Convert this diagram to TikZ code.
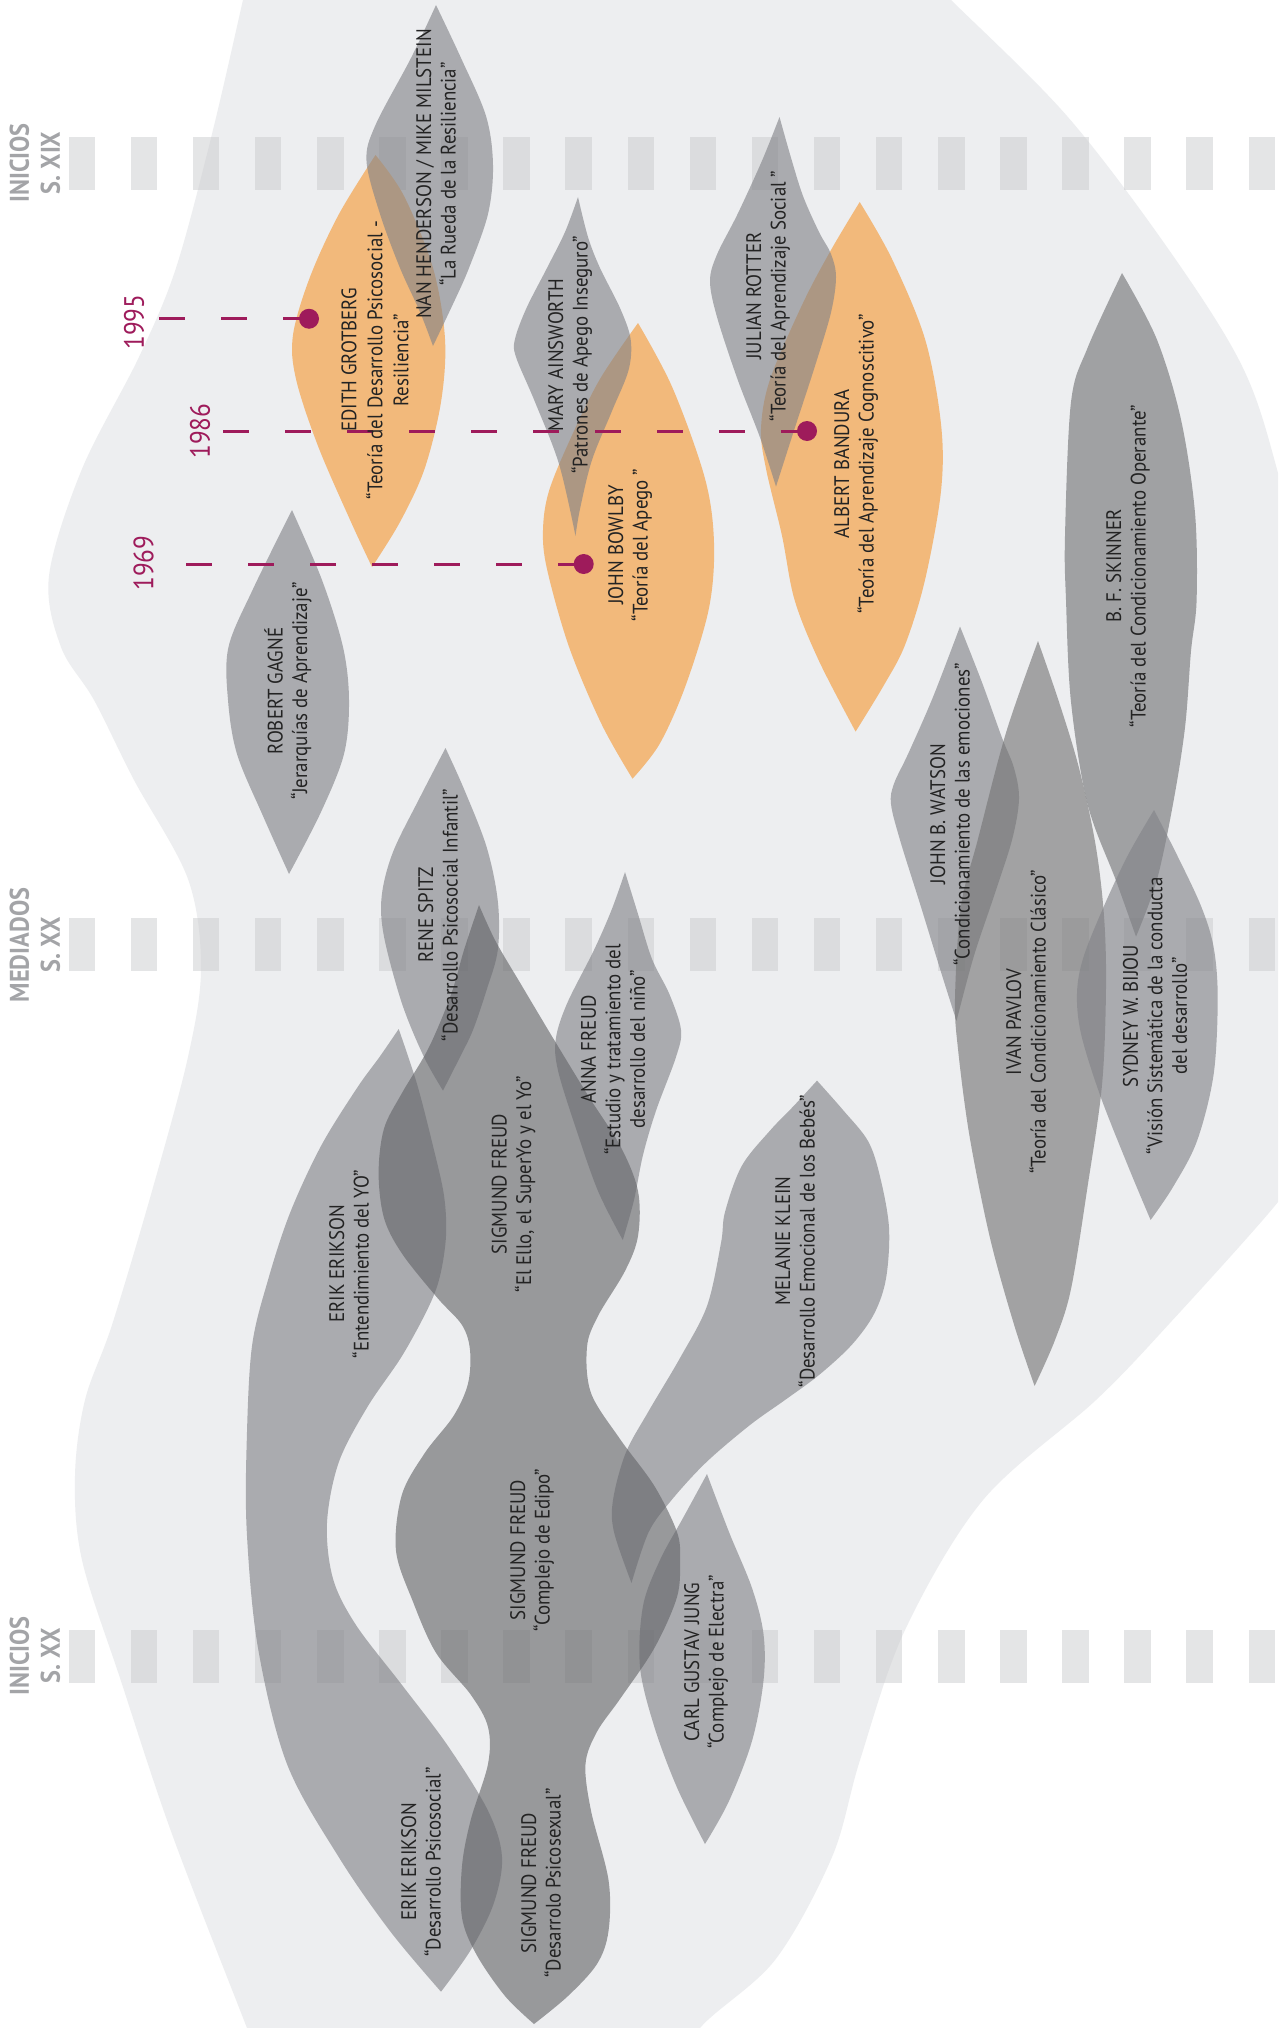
\documentclass[tikz,border=0pt]{standalone}
\usepackage{fontspec}
\setmainfont[FakeStretch=0.9]{PT Sans}
\definecolor{bgc}{RGB}{237,238,240}
\definecolor{sqc}{RGB}{203,204,206}
\definecolor{leafc}{RGB}{130,131,136}
\definecolor{freudc}{RGB}{100,101,104}
\definecolor{pavc}{RGB}{116,116,116}
\definecolor{skinc}{RGB}{113,114,117}
\definecolor{orc}{RGB}{242,185,123}
\definecolor{mag}{RGB}{158,27,91}
\definecolor{txtc}{RGB}{35,35,35}
\definecolor{erac}{RGB}{163,164,167}
\newcommand{\leafpath}[3]{\fill[#1] plot[smooth,tension=0.55] coordinates {#2} -- plot[smooth,tension=0.55] coordinates {#3} -- cycle;}
\tikzset{
  txt/.style={rotate=90, align=center, text=txtc, font=\fontsize{21}{24.5}\selectfont, inner sep=0pt},
  era/.style={rotate=90, align=center, text=erac, font=\bfseries\fontsize{27}{31}\selectfont, inner sep=0pt},
  yr/.style={rotate=90, text=mag, font=\fontsize{28}{30}\selectfont, inner sep=0pt},
  ydot/.style={circle, fill=mag, minimum size=20pt, inner sep=0pt},
  yline/.style={draw=mag, line width=3pt, dash pattern=on 26pt off 36pt},
  grayleaf/.style={fill=leafc, fill opacity=0.62},
  freudleaf/.style={fill=freudc, fill opacity=0.62},
  pavleaf/.style={fill=pavc, fill opacity=0.62},
  skinleaf/.style={fill=skinc, fill opacity=0.62},
  orleaf/.style={fill=orc},
  sq/.style={fill=sqc, fill opacity=0.5}
}
\begin{document}
\begin{tikzpicture}[x=1pt,y=-1pt]
\useasboundingbox (0,0) rectangle (1278,2028);
\fill[white] (0,0) rectangle (1278,2028);
\begin{scope}
\clip (0,0) rectangle (1278,2028);
\fill[bgc] plot[smooth cycle, tension=0.55] coordinates {(252,-40) (600,-80) (920,-30) (951,0) (1067,116) (1169,250) (1242,366) (1278,473) (1320,650) (1340,900) (1310,1150) (1278,1202) (1169,1324) (1096,1400) (983,1500) (905,1630) (860,1760) (832,1857) (775,1960) (700,2028) (675,2080) (450,2120) (267,2080) (247,2028) (172,1834) (121,1681) (82,1560) (75,1476) (85,1400) (112,1325) (152,1191) (188,1057) (201,968) (188,879) (134,780) (94,700) (61,647) (49,576) (82,469) (139,357) (176,268) (212,134) (243,0)};
\end{scope}
% square bands
\foreach \k in {0,...,19}{
  \foreach \y in {137.5,918,1629.6}{
    \fill[sq] ({68.6+62.1*\k},\y) rectangle ++(26.5,53);
  }
}
% orange leaves
\leafpath{orleaf}{(375.5,155) (404,196) (433,268) (445,339) (441,402) (424.5,469) (400,522) (372,567)}{(372,567) (351,522) (318,446) (296,379) (293,335) (310,277) (339,214) (375.5,155)}
\leafpath{orleaf}{(638,323) (672.6,388) (705,478.6) (714,543) (709,608) (685.6,685.6) (659.7,743.8) (632.5,778.7)}{(632.5,778.7) (601.5,724) (569,646.8) (547,569) (543,530) (549,491) (571,437.5) (600,379) (638,323)}
\leafpath{orleaf}{(859.7,202) (892,259) (925,339) (941,424) (941,491) (925,580) (905,645) (884,685) (855.6,731.6)}{(855.6,731.6) (819,661) (794.6,600) (782,535.7) (766,468.75) (761,428.6) (770,379.5) (802.7,303.6) (831,250) (859.7,202)}
% gray leaves
\leafpath{grayleaf}{(436,5) (461,58) (486,116) (493,165) (488,214) (469,268) (453,304) (433,346)}{(433,346) (420,312) (400,268) (380,214) (366.5,161) (375.5,125) (411,58) (436,5)}
\leafpath{grayleaf}{(292,510) (322,580) (343,647) (349,700) (344,754) (321,812) (289,874)}{(289,874) (263,816) (237,754) (228,700) (228.5,647) (253,589) (292,510)}
\leafpath{grayleaf}{(578,197) (588,237) (600,268) (620,308) (630.6,339) (628.6,370) (612,411) (592,460) (580,509) (575.5,536)}{(575.5,536) (559,464) (535,402) (516,357) (515,339) (526.5,308) (547,268) (565,232) (578,197)}
\leafpath{grayleaf}{(779.5,117) (790.5,156) (803,196) (819,232) (831,254) (836,277) (831,312.5) (815,366) (794.6,428.6) (776,486.6)}{(776,486.6) (760,437.5) (737.6,379.5) (717,317) (710,281) (717,254.5) (737.6,214) (762,160.7) (779.5,117)}
\leafpath{skinleaf}{(1122,273) (1156.7,339) (1181,419.6) (1195,513) (1196.6,600) (1191,651) (1185,727.5) (1173,804) (1156.7,880.6) (1136,936.7)}{(1136,936.7) (1116,880.6) (1087.5,804) (1071,702) (1066,600) (1065,535.7) (1071,402) (1087.5,348) (1122,273)}
\leafpath{grayleaf}{(960,626.5) (981.7,681.6) (1002,737.8) (1014,768) (1019,799) (1012,840) (994,896) (973.6,957) (956.5,1021)}{(956.5,1021) (941,972) (920.7,906) (900,840) (891,804) (894,783.7) (908.5,753) (933,697) (960,626.5)}
\leafpath{pavleaf}{(1038,641) (1059,702) (1079,768) (1095.6,845) (1104,916) (1106,988) (1102,1085) (1087.5,1187) (1071,1289) (1055,1340) (1034.6,1386)}{(1034.6,1386) (1014,1324.5) (990,1238) (969.5,1136) (958,1049) (955,998) (961,906) (977.7,840) (1006,732.7) (1038,641)}
\leafpath{grayleaf}{(1154,810) (1177,855) (1201,906) (1213.6,947) (1217.7,998) (1213.6,1074.5) (1197,1141) (1173,1187) (1150.6,1220)}{(1150.6,1220) (1128,1166) (1100,1095) (1081,1033.7) (1077,993) (1083.5,957) (1104,906) (1128,855) (1154,810)}
\leafpath{grayleaf}{(445.5,748) (464,789) (486.6,847) (497.8,901) (497.8,950) (486.6,990) (473,1030) (460,1057) (443,1090.6)}{(443,1090.6) (424,1057) (402,1003.6) (384,936.6) (381.7,896) (393,852) (419.6,798) (445.5,748)}
\leafpath{grayleaf}{(625,872) (638,914) (652,959) (669.6,994.6) (681,1030) (676,1057) (656,1110.7) (643,1155) (634,1200) (622.8,1240)}{(622.8,1240) (598,1191) (576,1128.6) (558,1070.5) (555.8,1039) (567,1003.6) (594,950) (611.6,909.8) (625,872)}
\leafpath{grayleaf}{(817,1080.6) (843,1110) (868,1141) (880,1176.5) (889,1227.6) (886,1278.6) (874,1314) (851.6,1345) (819,1375) (785,1400) (750,1425) (706,1462.5) (671.6,1500) (648.7,1532) (631.5,1583)}{(631.5,1583) (614,1532) (613,1500) (625.7,1453) (648.7,1411) (680,1358) (707,1306) (721,1243) (725,1212) (741.7,1166) (770,1130.6) (794.6,1105) (817,1080.6)}
\leafpath{grayleaf}{(707,1474) (729,1532) (752,1588) (763.5,1634) (763.5,1680.7) (752,1741) (729,1801) (705,1844)}{(705,1844) (677,1787.5) (654.4,1727) (640,1667) (643,1606) (660,1560) (683,1518) (707,1474)}
\leafpath{grayleaf}{(398.7,1029) (417,1084) (433,1146) (444,1195.5) (446,1236) (440,1276) (428.6,1307) (402,1356) (367.4,1407) (338.7,1462.5) (327,1523) (333,1578.6) (356,1625) (402,1685) (447.8,1745.7) (488,1810.7) (502,1857) (493.7,1903.5) (470.7,1950) (441,1991.7)}{(441,1991.7) (390,1931) (338.7,1857) (287,1764) (258,1648) (246.8,1532) (246.8,1439) (252,1346) (268,1280) (290,1213) (321,1146) (357,1088) (379.5,1057) (398.7,1029)}
\leafpath{freudleaf}{(479,905) (495.5,941) (522,986) (553.6,1039) (589,1097) (620.5,1146.4) (638,1191) (638,1236) (625,1271) (598,1316) (587,1347) (591,1393) (620,1439) (654.4,1486) (677,1532) (680,1560) (677,1597) (654.4,1648) (620,1699) (597,1731.7) (585.5,1764) (591,1810.7) (608.5,1880) (608.5,1931) (597,1964) (568,1996) (534,2024)}{(534,2024) (505,1996) (476.5,1954.6) (462,1917.5) (462,1866) (470.7,1820) (488,1764) (488,1727) (470.7,1694.6) (436,1652.8) (413,1601.8) (396,1550.7) (401.8,1495) (424.8,1453) (453.5,1416) (468,1383.6) (470,1350) (462,1325) (437.5,1298) (402,1253.6) (384,1218) (378.6,1173) (384,1128.6) (402,1093) (428.6,1048) (451,994.6) (464,950) (479,905)}
% era labels
\node[era] (era1) at (35,163) {INICIOS\\S. XIX};
\node[era] (era2) at (35,945) {MEDIADOS\\S. XX};
\node[era] (era3) at (35,1656) {INICIOS\\S. XX};
% years
\node[yr] (y95) at (134,322) {1995};
\node[yr] (y86) at (200,431) {1986};
\node[yr] (y69) at (143.5,563) {1969};
\coordinate (s95) at (159,318.75);
\coordinate (s86) at (223,431);
\coordinate (s69) at (186,564);
\node[ydot] (d95) at (309,318.75) {};
\node[ydot] (d86) at (807,431) {};
\node[ydot] (d69) at (583.7,564) {};
\draw[yline] (s95) -- (d95.center);
\draw[yline] (s86) -- (d86.center);
\draw[yline] (s69) -- (d69.center);
% texts
\node[txt] (nan) at (436,174) {NAN HENDERSON / MIKE MILSTEIN\\“La Rueda de la Resiliencia”};
\node[txt, font=\fontsize{21}{26}\selectfont] (edith) at (375,360) {EDITH GROTBERG\\“Teoría del Desarrollo Psicosocial -\\Resiliencia”};
\node[txt] (gagne) at (288,691) {ROBERT GAGNÉ\\“Jerarquías de Aprendizaje”};
\node[txt] (mary) at (570,355) {MARY AINSWORTH\\“Patrones de Apego Inseguro”};
\node[txt] (bowlby) at (630,545) {JOHN BOWLBY\\“Teoría del Apego ”};
\node[txt] (rotter) at (768,296) {JULIAN ROTTER\\“Teoría del Aprendizaje Social ”};
\node[txt] (bandura) at (856,464) {ALBERT BANDURA\\“Teoría del Aprendizaje Cognoscitivo”};
\node[txt] (skinner) at (1128,566) {B. F. SKINNER\\“Teoría del Condicionamiento Operante”};
\node[txt] (watson) at (950,814) {JOHN B. WATSON\\“Condicionamiento de las emociones”};
\node[txt] (pavlov) at (1026,1022) {IVAN PAVLOV\\“Teoría del Condicionamiento Clásico”};
\node[txt] (bijou) at (1155,1016) {SYDNEY W. BIJOU\\“Visión Sistemática de la conducta\\del desarrollo”};
\node[txt] (spitz) at (438,915) {RENE SPITZ\\“Desarrollo Psicosocial Infantil”};
\node[txt] (anna) at (613,1049.5) {ANNA FREUD\\“Estudio y tratamiento del\\desarrollo del niño”};
\node[txt] (klein) at (795,1241) {MELANIE KLEIN\\“Desarrollo Emocional de los Bebés”};
\node[txt] (jung) at (706,1662) {CARL GUSTAV JUNG\\“Complejo de Electra”};
\node[txt] (erik1) at (349,1264) {ERIK ERIKSON\\“Entendimiento del YO”};
\node[txt] (erik2) at (421,1862) {ERIK ERIKSON\\“Desarrollo Psicosocial”};
\node[txt] (freud1) at (513.5,1184) {SIGMUND FREUD\\“El Ello, el SuperYo y el Yo”};
\node[txt] (freud2) at (532,1550) {SIGMUND FREUD\\“Complejo de Edipo”};
\node[txt] (freud3) at (541,1883) {SIGMUND FREUD\\“Desarrolo Psicosexual”};
\end{tikzpicture}
\end{document}
